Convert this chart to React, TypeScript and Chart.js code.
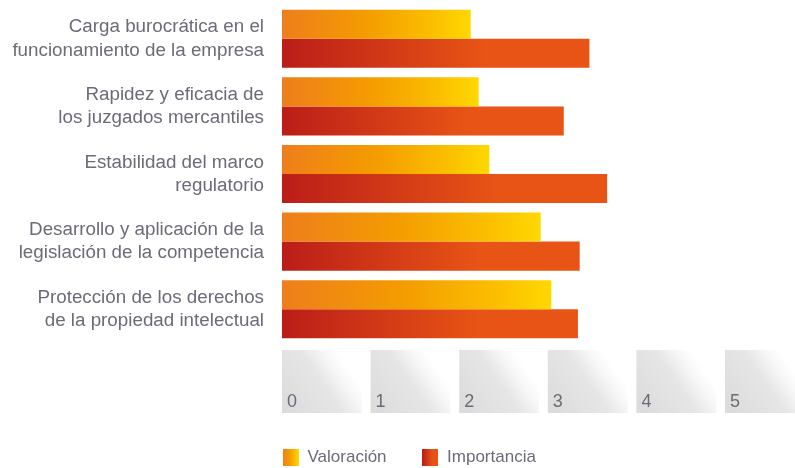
import React, { useEffect, useRef } from 'react';
import { Chart, registerables } from 'chart.js';

Chart.register(...registerables);

const categories: string[][] = [
  ['Carga burocrática en el', 'funcionamiento de la empresa'],
  ['Rapidez y eficacia de', 'los juzgados mercantiles'],
  ['Estabilidad del marco', 'regulatorio'],
  ['Desarrollo y aplicación de la', 'legislación de la competencia'],
  ['Protección de los derechos', 'de la propiedad intelectual'],
];
const valoracion = [2.13, 2.22, 2.34, 2.92, 3.04];
const importancia = [3.47, 3.18, 3.67, 3.36, 3.34];
const seriesNames = ['Valoración', 'Importancia'];
const axisMin = 0;
const axisMax = 5.79;
const axisStep = 1;

const FONT = "'Liberation Sans', Arial, Helvetica, sans-serif";
const TEXT = '#6e6a78';
const VAL_STOPS: [number, string][] = [
  [0, '#ee7e1c'],
  [0.45, '#f49c00'],
  [0.8, '#fbbf00'],
  [1, '#ffd800'],
];
const IMP_STOPS: [number, string][] = [
  [0, '#bb1d18'],
  [0.66, '#e85415'],
  [1, '#e85415'],
];

function barGradient(stops: [number, string][]) {
  return (c: any) => {
    const chart = c.chart;
    const xs = chart.scales && chart.scales.x;
    const fallback = stops[stops.length - 1][1];
    if (!chart.chartArea || !xs || c.type !== 'data') return fallback;
    const x0 = xs.getPixelForValue(0);
    const x1 = xs.getPixelForValue(c.raw as number);
    if (!isFinite(x0) || !isFinite(x1) || x1 === x0) return fallback;
    const g = chart.ctx.createLinearGradient(x0, 0, x1, 0);
    stops.forEach(([o, col]) => g.addColorStop(o, col));
    return g;
  };
}

function makeIcon(stops: [number, string][]) {
  const c = document.createElement('canvas');
  c.width = 16;
  c.height = 17;
  const g2 = c.getContext('2d')!;
  const g = g2.createLinearGradient(0, 0, 16, 0);
  stops.forEach(([o, col]) => g.addColorStop(o, col));
  g2.fillStyle = g;
  g2.fillRect(0, 0, 16, 17);
  return c;
}

const tickBoxes = {
  id: 'tickBoxes',
  beforeDraw(chart: any) {
    const xs = chart.scales.x;
    const { ctx, chartArea } = chart;
    if (!xs || !chartArea) return;
    const top = chartArea.bottom + 7;
    const h = 63;
    ctx.save();
    xs.ticks.forEach((t: any) => {
      const l = xs.getPixelForValue(t.value);
      const rFull = xs.getPixelForValue(t.value + 0.9);
      const r = Math.min(rFull, chart.width);
      const g = ctx.createLinearGradient(l, top + h * 0.8, rFull, top - 5);
      g.addColorStop(0, '#dcdcdc');
      g.addColorStop(0.45, '#e6e6e6');
      g.addColorStop(0.62, '#f6f6f6');
      g.addColorStop(0.75, '#ffffff');
      g.addColorStop(1, '#ffffff');
      ctx.fillStyle = g;
      ctx.fillRect(l, top, r - l, h);
    });
    ctx.restore();
  },
};

const legendShift = {
  id: 'legendShift',
  afterLayout(chart: any) {
    const lg = chart.legend;
    if (!lg) return;
    const pad = lg.options.labels.padding;
    lg.left = chart.chartArea.left - pad;
  },
};

export default function App() {
  const ref = useRef<HTMLCanvasElement | null>(null);
  useEffect(() => {
    if (!ref.current) return;
    const icons = [makeIcon(VAL_STOPS), makeIcon(IMP_STOPS)];
    const chart = new Chart(ref.current, {
      type: 'bar',
      data: {
        labels: categories,
        datasets: [
          {
            label: seriesNames[0],
            data: valoracion,
            backgroundColor: barGradient(VAL_STOPS) as any,
            borderWidth: 0,
            categoryPercentage: 0.86,
            barPercentage: 1,
          },
          {
            label: seriesNames[1],
            data: importancia,
            backgroundColor: barGradient(IMP_STOPS) as any,
            borderWidth: 0,
            categoryPercentage: 0.86,
            barPercentage: 1,
          },
        ],
      },
      plugins: [tickBoxes, legendShift],
      options: {
        indexAxis: 'y',
        responsive: false,
        animation: false,
        events: [],
        layout: { padding: { top: 5, bottom: -8, left: 0, right: 0 } },
        scales: {
          x: {
            type: 'linear',
            min: axisMin,
            max: axisMax,
            grid: { display: false, drawTicks: false },
            border: { display: false },
            ticks: {
              stepSize: axisStep,
              includeBounds: false,
              align: 'start',
              labelOffset: 5,
              padding: 48,
              color: TEXT,
              font: { family: FONT, size: 18 },
            },
            afterFit: (s: any) => {
              s.height = 71;
              s.paddingLeft = 0;
              s.paddingRight = 0;
            },
          },
          y: {
            grid: { display: false, drawTicks: false },
            border: { display: false },
            ticks: {
              padding: 18,
              color: TEXT,
              font: { family: FONT, size: 18.8, lineHeight: 1.23 },
            },
            afterFit: (s: any) => {
              s.width = 282;
              s.paddingTop = 0;
              s.paddingBottom = 0;
            },
          },
        },
        plugins: {
          tooltip: { enabled: false },
          legend: {
            position: 'bottom',
            align: 'start',
            labels: {
              usePointStyle: true,
              padding: 35,
              color: TEXT,
              font: { family: FONT, size: 17 },
              generateLabels: () =>
                seriesNames.map((name, i) => ({
                  text: name,
                  pointStyle: icons[i] as any,
                  fillStyle: 'transparent',
                  strokeStyle: 'transparent',
                  lineWidth: 0,
                  hidden: false,
                  datasetIndex: i,
                  fontColor: TEXT,
                })),
            },
          },
        },
      } as any,
    });
    return () => chart.destroy();
  }, []);
  return (
    <div style={{ position: 'fixed', left: 0, top: 0, width: 795, height: 468, background: '#fff' }}>
      <canvas ref={ref} width={795} height={468} style={{ display: 'block' }} />
    </div>
  );
}
